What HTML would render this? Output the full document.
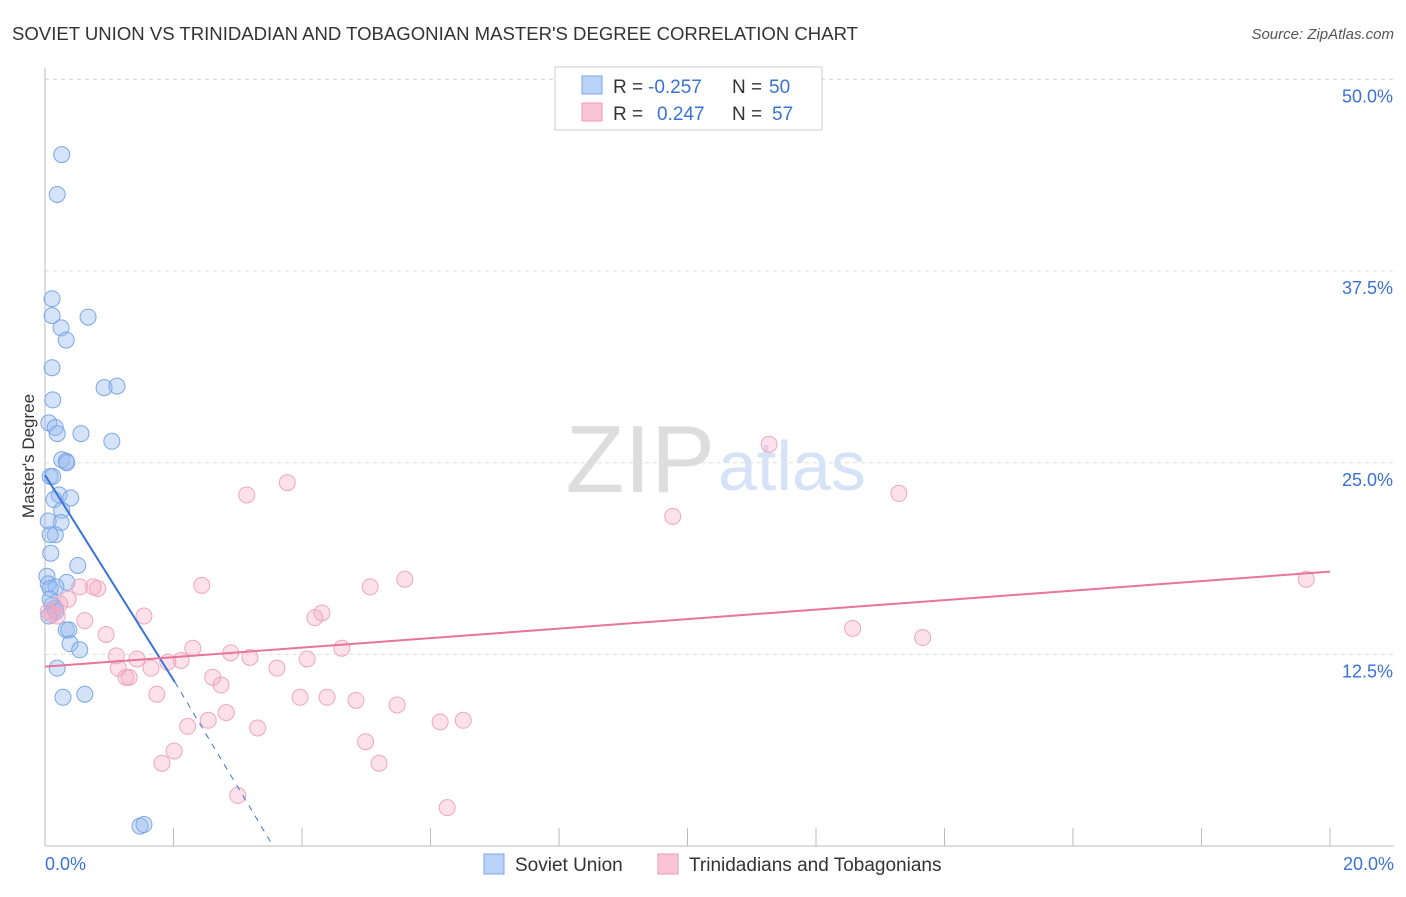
<!DOCTYPE html>
<html><head><meta charset="utf-8"><style>
body{margin:0;background:#fff;font-family:"Liberation Sans",sans-serif;}
svg text{font-family:"Liberation Sans",sans-serif;}
</style></head><body>
<svg id="c" width="1406" height="892">
<text x="12" y="40" font-size="18" fill="#333" textLength="846" lengthAdjust="spacingAndGlyphs">SOVIET UNION VS TRINIDADIAN AND TOBAGONIAN MASTER'S DEGREE CORRELATION CHART</text>
<text x="1394" y="39" font-size="15" fill="#555" font-style="italic" text-anchor="end">Source: ZipAtlas.com</text>
<text x="34" y="456" font-size="17" fill="#333" text-anchor="middle" transform="rotate(-90 34 456)">Master's Degree</text>
<g id="grid"></g>
<text x="715" y="492" font-size="96" fill="#ddd" text-anchor="end" font-family="Liberation Serif">ZIP</text>
<text x="718" y="490" font-size="70" fill="#d6e2f5">atlas</text>
<g id="pts"></g>
<g>
<rect x="555" y="67" width="267" height="63" fill="#fff" stroke="#ccc"/>
<rect x="582" y="76" width="20" height="18" fill="#b8d3f7" stroke="#7aa7e6"/>
<rect x="582" y="103" width="20" height="18" fill="#f9c5d6" stroke="#ef9ab7"/>
<text x="613" y="93" font-size="19" fill="#333">R =</text>
<text x="648" y="93" font-size="19" fill="#3a72d6">-0.257</text>
<text x="732" y="93" font-size="19" fill="#333">N =</text>
<text x="769" y="93" font-size="19" fill="#3a72d6">50</text>
<text x="613" y="120" font-size="19" fill="#333">R =</text>
<text x="657" y="120" font-size="19" fill="#3a72d6">0.247</text>
<text x="732" y="120" font-size="19" fill="#333">N =</text>
<text x="772" y="120" font-size="19" fill="#3a72d6">57</text>
</g>
<g>
<rect x="484" y="854" width="20" height="20" fill="#b8d3f7" stroke="#7aa7e6"/>
<text x="515" y="871" font-size="19" fill="#333">Soviet Union</text>
<rect x="658" y="854" width="20" height="20" fill="#f9c5d6" stroke="#ef9ab7"/>
<text x="689" y="871" font-size="19" fill="#333">Trinidadians and Tobagonians</text>
</g>
</svg>
<script>
const xTicks=[0,2,4,6,8,10,12,14,16,18,20];
const yTicks=[12.5,25,37.5,50];
const yTickLabels=["12.5%","25.0%","37.5%","50.0%"];
const sovietX=[0.26,0.19,0.11,0.11,0.67,0.25,0.33,0.11,0.92,1.12,0.12,0.06,0.16,0.19,0.56,1.04,0.26,0.33,0.34,0.08,0.12,0.22,0.40,0.14,0.26,0.25,0.05,0.16,0.08,0.09,0.51,0.03,0.05,0.34,0.17,0.08,0.11,0.16,0.17,0.06,0.33,0.37,0.39,0.54,0.19,0.62,0.28,1.48,1.54,0.08];
const sovietY=[45.1,42.5,35.7,34.6,34.5,33.8,33.0,31.2,29.9,30.0,29.1,27.6,27.3,26.9,26.9,26.4,25.2,25.1,25.0,24.1,24.1,22.9,22.7,22.6,21.9,21.1,21.2,20.3,20.3,19.1,18.3,17.6,17.1,17.2,16.9,16.8,15.7,15.5,15.3,15.0,14.1,14.1,13.2,12.8,11.6,9.9,9.7,1.3,1.4,16.1];
const trinX=[11.27,9.77,13.29,19.63,12.57,13.66,3.14,3.77,2.44,5.60,5.06,4.31,4.20,4.62,2.30,2.89,3.19,4.08,2.12,1.91,1.43,1.11,3.61,1.65,1.14,1.26,1.31,2.61,2.74,1.74,3.97,4.39,4.84,5.48,2.82,2.54,2.22,3.31,6.15,6.51,4.99,2.01,1.82,5.20,3.00,6.26,0.62,0.95,0.82,0.75,0.54,1.54,0.36,0.23,0.19,0.11,0.05];
const trinY=[26.2,21.5,23.0,17.4,14.2,13.6,22.9,23.7,17.0,17.4,16.9,15.2,14.9,12.9,12.9,12.6,12.3,12.2,12.1,12.0,12.2,12.4,11.6,11.6,11.6,11.0,11.0,11.0,10.5,9.9,9.7,9.7,9.5,9.2,8.7,8.2,7.8,7.7,8.1,8.2,6.8,6.2,5.4,5.4,3.3,2.5,14.7,13.8,16.8,16.9,16.9,15.0,16.1,15.8,15.0,15.1,15.3];
const NS="http://www.w3.org/2000/svg";
const X=v=>45+v*64.25, Y=v=>846-v*15.33;
function mk(t,a,p){const e=document.createElementNS(NS,t);for(const k in a)e.setAttribute(k,a[k]);p.appendChild(e);return e;}
const g=document.getElementById('grid'), P=document.getElementById('pts');
mk('line',{x1:45,y1:79,x2:1394,y2:79,stroke:'#ddd','stroke-dasharray':'4,4'},g);
yTicks.forEach((v,i)=>{
  const l=mk('line',{x1:45,y1:Y(v),x2:1394,y2:Y(v),stroke:'#ddd','stroke-dasharray':'4,4'},g);
  
  
  const t=mk('text',{x:1393,y:Y(v)+23,'font-size':18,fill:'#3a72d6','text-anchor':'end'},g);
  t.textContent=yTickLabels[i];
  
  
});
mk('line',{x1:45,y1:68,x2:45,y2:846,stroke:'#bbb'},g);
mk('line',{x1:45,y1:846,x2:1394,y2:846,stroke:'#bbb'},g);
xTicks.forEach(v=>{const l=mk('line',{x1:X(v),y1:828,x2:X(v),y2:846,stroke:'#bbb'},g);
  
  });
[[0,"0.0%",'start',45],[20,"20.0%",'end',1394]].forEach(d=>{const t=mk('text',{x:d[3],y:870,'font-size':18,fill:'#3a72d6','text-anchor':d[2]},g);t.textContent=d[1];
  
  });
sovietX.forEach((x,i)=>{const c=mk('circle',{cx:X(x),cy:Y(sovietY[i]),r:8,fill:'rgba(150,185,240,0.4)',stroke:'#7aa7e6','stroke-width':1},P);
  
  });
trinX.forEach((x,i)=>{const c=mk('circle',{cx:X(x),cy:Y(trinY[i]),r:8,fill:'rgba(245,170,195,0.35)',stroke:'#efa5bf','stroke-width':1},P);
  
  });
let l=mk('line',{x1:X(0),y1:Y(24.2),x2:X(2.02),y2:Y(10.7),stroke:'#3a72d6','stroke-width':2},P);


l=mk('line',{x1:X(2.02),y1:Y(10.7),x2:X(3.55),y2:Y(0),stroke:'#3a72d6','stroke-width':1,'stroke-dasharray':'6,6'},P);


l=mk('line',{x1:X(0),y1:Y(11.7),x2:X(20),y2:Y(17.9),stroke:'#e8739c','stroke-width':2},P);


</script>
</body></html>
